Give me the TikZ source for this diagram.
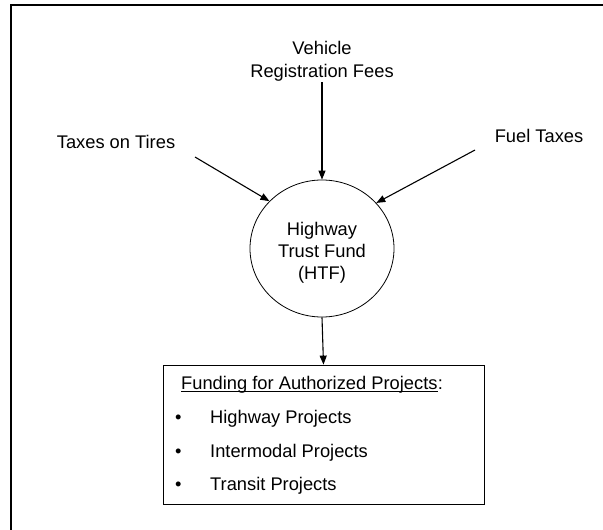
\documentclass[tikz,border=0pt]{standalone}
\usepackage{fontspec}
\setmainfont{Liberation Sans}
\usetikzlibrary{arrows.meta,shapes.geometric}
\tikzset{
  lbl/.style={inner sep=0pt,font=\fontsize{18.3}{22}\selectfont},
  arr/.style={line width=1.1pt,-{Triangle[length=9pt,width=7pt]}},
  frame/.style={line width=1.8pt},
}
\begin{document}
\begin{tikzpicture}[x=1pt,y=-1pt]
\useasboundingbox (0,0) rectangle (603,530);
% frame
\coordinate (fl) at (11,530);
\coordinate (fc) at (11,5);
\coordinate (fr) at (603,5);
\draw[frame] (fl) -- (fc) -- (fr);
% sources
\node[lbl,anchor=base] (veh1) at (322,54) {Vehicle};
\node[lbl,anchor=base] (veh) at (322,77) {Registration Fees};
\node[lbl,anchor=base] (tires) at (116,148) {Taxes on Tires};
\node[lbl,anchor=base] (fuel) at (539,142) {Fuel Taxes};
% fund
\node[draw,ellipse,line width=0.8pt,minimum width=144pt,minimum height=137pt,inner sep=0pt] (htf) at (322,248.5) {};
\node[lbl,anchor=base] (h1) at (322,235) {Highway};
\node[lbl,anchor=base] (h2) at (322,257) {Trust Fund};
\node[lbl,anchor=base] (h3) at (322,279) {(HTF)};
% box
\node[draw,line width=0.8pt,minimum width=321pt,minimum height=139pt,inner sep=0pt] (box) at (323.5,434.5) {};
\node[lbl,anchor=base west] (bt) at (181,389) {Funding for Authorized Projects};
\node[lbl,anchor=base west] (btc) at (bt.base east) {:};
\draw[line width=0.8pt] ([yshift=-2.5pt]bt.base west) -- ([yshift=-2.5pt]bt.base east);
\node[lbl,anchor=base west] (b1) at (175,423) {\textbullet};
\node[lbl,anchor=base west] (p1) at (210,423) {Highway Projects};
\node[lbl,anchor=base west] (b2) at (175,457) {\textbullet};
\node[lbl,anchor=base west] (p2) at (210,457) {Intermodal Projects};
\node[lbl,anchor=base west] (b3) at (175,490) {\textbullet};
\node[lbl,anchor=base west] (p3) at (210,490) {Transit Projects};
% connectors
\coordinate (ts) at (195,157);
\coordinate (fs) at (475,150);
\coordinate (vs) at (322,82);
\draw[arr] (vs) -- (htf.north);
\draw[arr] (ts) -- (htf.138);
\draw[arr] (fs) -- (htf.40);
\draw[arr] (htf.south) -- (box.north);
\end{tikzpicture}
\end{document}
